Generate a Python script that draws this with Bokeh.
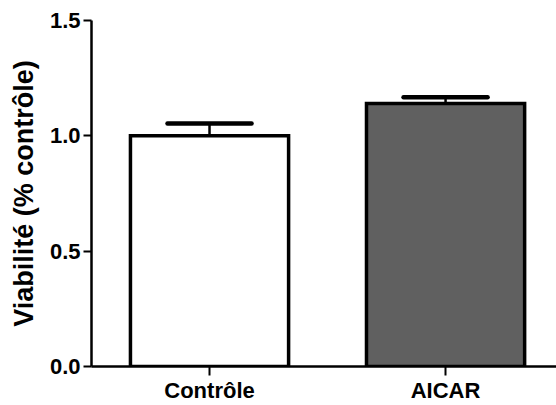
from bokeh.plotting import figure
from bokeh.models import Range1d, FixedTicker, ColumnDataSource
from bokeh.embed import file_html
from bokeh.resources import INLINE

categories = ["Contrôle", "AICAR"]
values = [1.0, 1.14]
errors = [0.053, 0.027]
colors = ["#ffffff", "#606060"]
y_ticks = [0.0, 0.5, 1.0, 1.5]
y_tick_labels = ["0.0", "0.5", "1.0", "1.5"]

xpos = [i + 0.5 for i in range(len(categories))]
bar_width = 0.67
cap_half = 0.178

p = figure(width=556, height=405, output_backend="svg", toolbar_location=None,
           x_range=Range1d(0, 1.97), y_range=Range1d(0, 1.5),
           min_border_left=91, min_border_right=0, min_border_top=20, min_border_bottom=39)
p.outline_line_color = None
p.xgrid.grid_line_color = None
p.ygrid.grid_line_color = None
p.background_fill_color = "white"
p.border_fill_color = "white"

src = ColumnDataSource(dict(
    x=xpos, top=values, color=colors,
    etop=[v + e for v, e in zip(values, errors)],
    cl=[x - cap_half for x in xpos], cr=[x + cap_half for x in xpos],
))

p.segment(x0="x", y0="top", x1="x", y1="etop", source=src, line_color="black", line_width=2.5)
p.segment(x0="cl", y0="etop", x1="cr", y1="etop", source=src, line_color="black",
          line_width=4.5, line_cap="round")
p.vbar(x="x", top="top", bottom=0, width=bar_width, source=src, fill_color="color",
       line_color="black", line_width=3.5, line_join="miter")

font = "Liberation Sans"
for ax in (p.xaxis, p.yaxis):
    ax.minor_tick_line_color = None
    ax.major_tick_in = 0
    ax.major_tick_line_width = 2
    ax.major_tick_line_color = "black"
    ax.axis_line_width = 2.5
    ax.axis_line_color = "black"
    ax.major_label_text_font = font
    ax.major_label_text_font_style = "bold"
    ax.major_label_text_font_size = "22px"
    ax.major_label_text_color = "black"

# y axis
p.yaxis.ticker = FixedTicker(ticks=y_ticks)
p.yaxis.major_label_overrides = {t: l for t, l in zip(y_ticks, y_tick_labels)}
p.yaxis.major_tick_out = 8
p.yaxis.major_label_standoff = 3
p.yaxis.axis_label = "Viabilité (% contrôle)"
p.yaxis.axis_label_text_font = font
p.yaxis.axis_label_text_font_style = "bold"
p.yaxis.axis_label_text_font_size = "27px"
p.yaxis.axis_label_text_color = "black"
p.yaxis.axis_label_standoff = 8

# x axis
p.xaxis.ticker = FixedTicker(ticks=xpos)
p.xaxis.major_label_overrides = {x: c for x, c in zip(xpos, categories)}
p.xaxis.major_tick_out = 9
p.xaxis.major_label_standoff = 2

open("out.html", "w").write(file_html(p, INLINE))
